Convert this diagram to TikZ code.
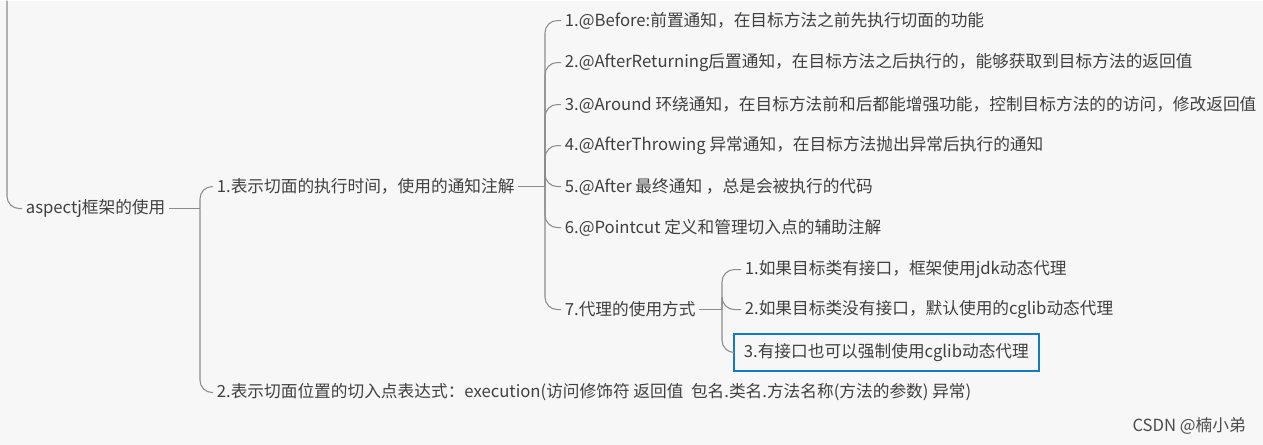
\documentclass[tikz,border=0pt]{standalone}
\usepackage{fontspec}
\setmainfont{Noto Sans CJK SC}
\begin{document}
\begin{tikzpicture}[x=0.02cm,y=-0.02cm,
    topic/.style={anchor=west, inner sep=2pt, font=\fontsize{9.5}{11}\selectfont, text=black!75},
    branch/.style={draw=black!45, line width=0.6pt, rounded corners=7pt}]
    \fill[white!97!black] (0,0) rectangle (1263,444);

    \node (root) [topic] at (22,208) {aspectj框架的使用};
    \node (time) [topic] at (213,186) {1.表示切面的执行时间，使用的通知注解};
    \node (expr) [topic] at (213,392) {2.表示切面位置的切入点表达式：execution(访问修饰符 返回值\ \ 包名.类名.方法名称(方法的参数) 异常)};
    \node (before) [topic] at (561,20) {1.@Before:前置通知，在目标方法之前先执行切面的功能};
    \node (afterret) [topic] at (561,62) {2.@AfterReturning后置通知，在目标方法之后执行的，能够获取到目标方法的返回值};
    \node (around) [topic] at (561,104) {3.@Around 环绕通知，在目标方法前和后都能增强功能，控制目标方法的的访问，修改返回值};
    \node (afterthr) [topic] at (561,145) {4.@AfterThrowing 异常通知，在目标方法抛出异常后执行的通知};
    \node (after) [topic] at (561,186) {5.@After 最终通知 ，总是会被执行的代码};
    \node (pointcut) [topic] at (561,227) {6.@Pointcut 定义和管理切入点的辅助注解};
    \node (proxy) [topic] at (561,309) {7.代理的使用方式};
    \node (jdk) [topic] at (741,269) {1.如果目标类有接口，框架使用jdk动态代理};
    \node (cglib) [topic] at (741,309) {2.如果目标类没有接口，默认使用的cglib动态代理};
    \node (force) [topic, draw=cyan!60!blue, line width=1pt, minimum height=0.74cm, minimum width=6.1cm] at (733,352) {3.有接口也可以强制使用cglib动态代理};
    \node (mark) [anchor=east, font=\fontsize{9.5}{11}\selectfont, text=black!70] at (1252,425) {CSDN @楠小弟};

    % brackets
    \coordinate (top) at (7,0);
    \coordinate (jroot) at (200,208);
    \coordinate (jtime) at (545,186);
    \coordinate (jproxy) at (722,309);
    \draw[branch] (top) |- (root.west);
    \draw[branch] (root.east) -- (jroot);
    \foreach \c in {time,expr} \draw[branch] (jroot) |- (\c.west);
    \draw[branch] (time.east) -- (jtime);
    \foreach \c in {before,afterret,around,afterthr,after,pointcut,proxy} \draw[branch] (jtime) |- (\c.west);
    \draw[branch] (proxy.east) -- (jproxy);
    \foreach \c in {jdk,cglib,force} \draw[branch] (jproxy) |- (\c.west);
\end{tikzpicture}
\end{document}
